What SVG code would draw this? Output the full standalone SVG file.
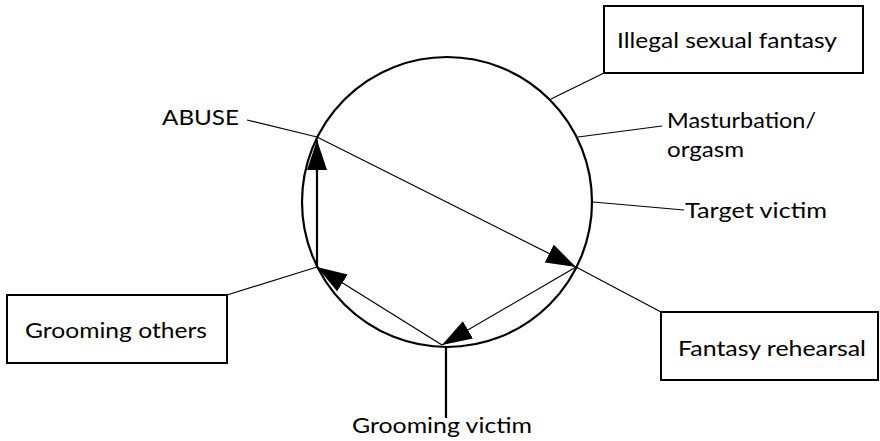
<svg xmlns="http://www.w3.org/2000/svg" width="880" height="441" viewBox="0 0 880 441">
  <defs>
    <marker id="arrow" viewBox="0 0 30 20" refX="30" refY="10" markerWidth="30" markerHeight="20" markerUnits="userSpaceOnUse" orient="auto">
      <path d="M0,0 L30,10 L0,20 Z" fill="#000"/>
    </marker>
    <style>
      .lbl { font-family: "Lato", "Liberation Sans", sans-serif; font-size: 21px; fill: #000; }
      .box { fill: #fff; stroke: #000; stroke-width: 2; }
      .thin { stroke: #000; stroke-width: 1.2; fill: none; }
      .thick { stroke: #000; stroke-width: 2.2; fill: none; }
    </style>
  </defs>
  <rect width="880" height="441" fill="#fff"/>

  <!-- cycle ring -->
  <g id="cycle">
    <circle cx="447" cy="202" r="145" fill="none" stroke="#000" stroke-width="2.2"/>
  </g>

  <!-- connectors -->
  <g id="connectors">
    <!-- leader lines from labels to the ring -->
    <line class="thin" x1="604" y1="73" x2="551" y2="99"/>
    <line class="thin" x1="662" y1="126" x2="578" y2="137"/>
    <line class="thin" x1="684" y1="210" x2="593" y2="202"/>
    <line class="thin" x1="247" y1="120" x2="317" y2="137"/>
    <line class="thin" x1="576" y1="267" x2="661" y2="312"/>
    <line class="thin" x1="227" y1="295" x2="317" y2="267"/>
    <line class="thick" x1="446" y1="346" x2="446" y2="418"/>
    <!-- cycle arrows -->
    <line class="thin" x1="317" y1="137" x2="576" y2="267" marker-end="url(#arrow)"/>
    <line class="thin" x1="576" y1="267" x2="442" y2="345" marker-end="url(#arrow)"/>
    <line class="thin" x1="442" y1="345" x2="317" y2="267" marker-end="url(#arrow)"/>
    <line class="thick" x1="317" y1="267" x2="317" y2="140" marker-end="url(#arrow)"/>
  </g>

  <g id="illegal-sexual-fantasy">
    <rect class="box" x="604" y="6" width="259" height="67"/>
    <text class="lbl" x="617" y="48" textLength="220" lengthAdjust="spacingAndGlyphs">Illegal sexual fantasy</text>
  </g>

  <g id="masturbation">
    <text class="lbl" x="667" y="128" textLength="149" lengthAdjust="spacingAndGlyphs">Masturbation/</text>
    <text class="lbl" x="667" y="157" textLength="77" lengthAdjust="spacingAndGlyphs">orgasm</text>
  </g>

  <g id="target-victim">
    <text class="lbl" x="685" y="218" textLength="142" lengthAdjust="spacingAndGlyphs">Target victim</text>
  </g>

  <g id="abuse">
    <text class="lbl" x="162" y="125" textLength="77" lengthAdjust="spacingAndGlyphs">ABUSE</text>
  </g>

  <g id="fantasy-rehearsal">
    <rect class="box" x="661" y="312" width="217" height="68"/>
    <text class="lbl" x="678" y="356" textLength="188" lengthAdjust="spacingAndGlyphs">Fantasy rehearsal</text>
  </g>

  <g id="grooming-others">
    <rect class="box" x="7" y="295" width="220" height="68"/>
    <text class="lbl" x="25" y="338" textLength="182" lengthAdjust="spacingAndGlyphs">Grooming others</text>
  </g>

  <g id="grooming-victim">
    <text class="lbl" x="352" y="433" textLength="180" lengthAdjust="spacingAndGlyphs">Grooming victim</text>
  </g>
</svg>
